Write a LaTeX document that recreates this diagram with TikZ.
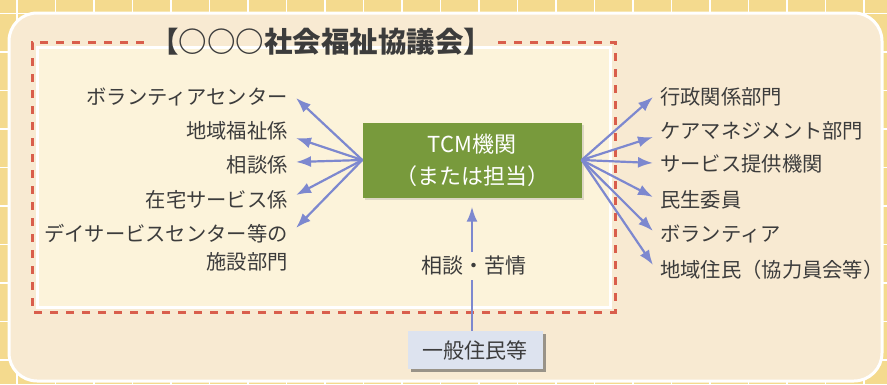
\documentclass[tikz,border=0pt]{standalone}
\usepackage{fontspec}
\setmainfont{Noto Sans CJK JP}
\usetikzlibrary{arrows.meta,shadows}
\definecolor{gridbg}{HTML}{F4DA8E}
\definecolor{outerbg}{HTML}{F8EAD2}
\definecolor{innerbg}{HTML}{FCF3DA}
\definecolor{dashred}{HTML}{D95E4C}
\definecolor{tcmgreen}{HTML}{789A3C}
\definecolor{arrowblue}{HTML}{7D88CF}
\definecolor{txt}{HTML}{3C3C3C}
\definecolor{boxblue}{HTML}{DDE3EF}
\tikzset{
  lbl/.style={inner sep=0pt, text=txt, font=\fontsize{20.3}{28}\selectfont},
  conn/.style={draw=arrowblue, line width=2.2pt, -{Latex[length=15pt,width=11pt]}},
  dashline/.style={draw=dashred, line width=3pt, dash pattern=on 8pt off 8pt},
  titlestyle/.style={inner sep=6pt, text=txt, font=\fontsize{28.5}{32}\selectfont\bfseries},
  tcmbox/.style={fill=tcmgreen, minimum width=219pt, minimum height=75pt, text=white, align=center,
     font=\fontsize{22}{32}\selectfont, drop shadow={shadow xshift=2pt, shadow yshift=-2pt, opacity=0.25}},
  resbox/.style={fill=boxblue, minimum width=135pt, minimum height=38pt, text=txt,
     font=\fontsize{21}{24}\selectfont, drop shadow={shadow xshift=3pt, shadow yshift=-3pt, opacity=0.55, fill=black!70}},
}
\begin{document}
\begin{tikzpicture}[x=1pt,y=-1pt]
\useasboundingbox (0,0) rectangle (887,384);
\fill[gridbg] (0,0) rectangle (887,384);
\foreach \i in {0,...,23} \draw[white,line width=1.5pt] ({17+38.5*\i},0) -- ++(0,384);
\foreach \j in {0,...,10} \draw[white,line width=1.5pt] (0,{13.5+38.5*\j}) -- ++(887,0);
% outer box
\draw[white, line width=3pt, fill=outerbg, rounded corners=28pt] (9,13) rectangle (882,381);
% inner area
\draw[white, line width=3pt, fill=innerbg] (37,47) rectangle (610,307);
% title and dashed frame
\node[titlestyle] (ttl) at (321,42) {【○○○社会福祉協議会】};
\draw[dashline] (ttl.east) -- (615,42) -- (615,312) -- (32,312) -- (32,42) -- (ttl.west);
% central box
\node[tcmbox] (tcm) at (472,160) {TCM機関\\（または担当）};
% left labels
\node[lbl, anchor=east] (l1) at (288,97) {ボランティアセンター};
\node[lbl, anchor=east] (l2) at (288,131) {地域福祉係};
\node[lbl, anchor=east] (l3) at (288,165) {相談係};
\node[lbl, anchor=east] (l4) at (288,200) {在宅サービス係};
\node[lbl, anchor=east, align=right] (l5) at (288,248) {デイサービスセンター等の\\施設部門};
% right labels
\node[lbl, anchor=west] (r1) at (660,97) {行政関係部門};
\node[lbl, anchor=west] (r2) at (660,131) {ケアマネジメント部門};
\node[lbl, anchor=west] (r3) at (660,164) {サービス提供機関};
\node[lbl, anchor=west] (r4) at (660,200) {民生委員};
\node[lbl, anchor=west] (r5) at (660,234) {ボランティア};
\node[lbl, anchor=west] (r6) at (660,270) {地域住民（協力員会等）};
% tips
\coordinate (tl1) at (296,98);
\coordinate (tl2) at (296,138);
\coordinate (tl3) at (296,162);
\coordinate (tl4) at (296,195);
\coordinate (tl5) at (296,228);
\coordinate (tr1) at (653,97);
\coordinate (tr2) at (653,137);
\coordinate (tr3) at (653,163);
\coordinate (tr4) at (653,197);
\coordinate (tr5) at (653,231);
\coordinate (tr6) at (653,265);
\foreach \t in {tl1,tl2,tl3,tl4,tl5} \draw[conn] (tcm.west) -- (\t);
\foreach \t in {tr1,tr2,tr3,tr4,tr5,tr6} \draw[conn] (tcm.east) -- (\t);
% bottom box and vertical arrow
\node[resbox] (res) at (475,350) {一般住民等};
\draw[conn, shorten >=9pt] (res.north -| tcm.south) -- (tcm.south);
\node[lbl, fill=innerbg, inner sep=4pt, font=\fontsize{21}{24}\selectfont] (sod) at (474,266) {相談・苦情};
\end{tikzpicture}
\end{document}
